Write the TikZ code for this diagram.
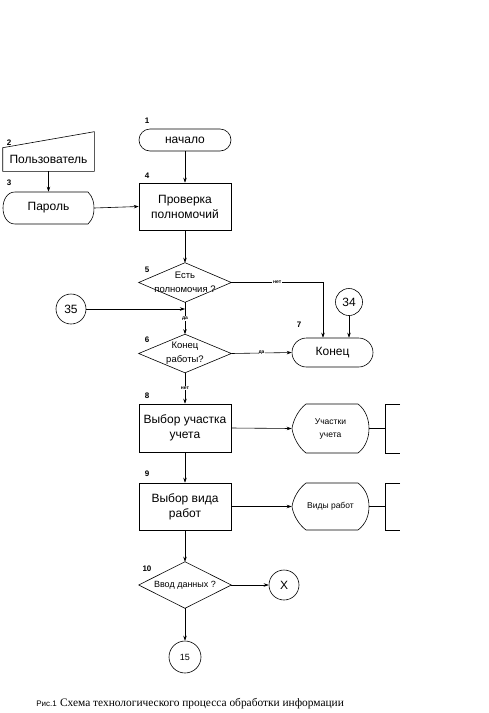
\documentclass[tikz,border=0pt]{standalone}
\usepackage{fontspec}
\setmainfont{Liberation Serif}
\setsansfont{Liberation Sans}
\usetikzlibrary{shapes.misc,arrows.meta}
\begin{document}
\begin{tikzpicture}[x=1pt,y=-1pt, line width=0.6pt,
 font=\sffamily\fontsize{12}{15}\selectfont,
 arr/.style={-{Stealth[length=5pt,width=3.5pt]}},
 lbl/.style={font=\sffamily\bfseries\fontsize{5}{5}\selectfont, fill=white, inner sep=0.6pt},
 num/.style={font=\sffamily\bfseries\fontsize{8}{8}\selectfont, inner sep=0},
 term/.style={rounded rectangle, draw, inner sep=0},
 box/.style={rectangle, draw, minimum width=92pt, align=center, inner sep=0},
 ghost/.style={rectangle, inner sep=0, align=center},
 dtext/.style={font=\sffamily\fontsize{9.5}{14}\selectfont},
 stext/.style={font=\sffamily\fontsize{8.5}{13}\selectfont},
 circ/.style={circle, draw, inner sep=0}]
\useasboundingbox (0,0) rectangle (489,713);

% numbers
\node[num] (n1) at (147,121) {1};
\node[num] (n2) at (9,143) {2};
\node[num] (n3) at (9,183) {3};
\node[num] (n4) at (147,176) {4};
\node[num] (n5) at (147,270) {5};
\node[num] (n6) at (147,340) {6};
\node[num] (n7) at (299,325) {7};
\node[num] (n8) at (147,396) {8};
\node[num] (n9) at (147,474) {9};
\node[num] (n10) at (147,569) {10};

% start
\node[term, minimum width=92pt, minimum height=22pt] (start) at (185,140) {начало};

% user (manual input)
\node[ghost, minimum width=91pt, minimum height=23pt] (user) at (48.5,159.5) {Пользователь};
\draw (user.south west) -- (user.south east) -- ([yshift=16pt]user.north east) -- (user.north west) -- cycle;

% parol
\node[ghost, minimum width=91pt, minimum height=32pt] (parol) at (48.5,208) {Пароль};
\draw (15,192) -- (88,192) .. controls (93,197) and (94,203) .. (94,208)
  .. controls (94,214) and (93,219) .. (88,224) -- (15,224)
  .. controls (7,224) and (3,216) .. (3,208) .. controls (3,200) and (7,192) .. (15,192) -- cycle;

% check box
\node[box, minimum height=47pt] (check) at (185,206.5) {Проверка\\полномочий};

% diamond 5
\node[ghost, minimum width=92pt, minimum height=39pt, dtext] (d5) at (185,282.5) {Есть\\полномочия ?};
\draw (d5.west) -- (d5.north) -- (d5.east) -- (d5.south) -- cycle;

% circle 35
\node[circ, minimum size=30pt] (c35) at (71,309) {35};

% diamond 6
\node[ghost, minimum width=92pt, minimum height=38pt, dtext] (d6) at (185,353.5) {Конец\\работы?};
\draw (d6.west) -- (d6.north) -- (d6.east) -- (d6.south) -- cycle;

% end
\node[term, minimum width=81pt, minimum height=29pt] (end) at (332.5,352.5) {Конец};

% circle 34
\node[circ, minimum size=27pt] (c34) at (349,302) {34};

% box 8
\node[box, minimum height=48pt] (b8) at (185,428) {Выбор участка\\учета};
\node[ghost, minimum width=77pt, minimum height=49pt, stext] (u8) at (330.5,428.5) {Участки\\учета};
\draw (306,404) -- (358,404) .. controls (366,410) and (369,420) .. (369,428.5)
  .. controls (369,437) and (366,447) .. (358,453) -- (306,453)
  .. controls (298,447) and (293,436) .. (292,428.5)
  .. controls (293,421) and (298,410) .. (306,404) -- cycle;
\coordinate (br8) at (385,428.5);
\draw (400,404) -- (385,404) -- (385,453) -- (400,453);

% box 9
\node[box, minimum height=47pt] (b9) at (185,506.5) {Выбор вида\\работ};
\node[ghost, minimum width=77pt, minimum height=47pt, stext] (u9) at (330.5,506.5) {Виды работ};
\draw (306,483) -- (358,483) .. controls (366,489) and (369,498) .. (369,506.5)
  .. controls (369,515) and (366,524) .. (358,530) -- (306,530)
  .. controls (298,524) and (293,514) .. (292,506.5)
  .. controls (293,499) and (298,489) .. (306,483) -- cycle;
\coordinate (br9) at (385,506.5);
\draw (400,483) -- (385,483) -- (385,530) -- (400,530);

% diamond 10
\node[ghost, minimum width=92pt, minimum height=46pt, font=\sffamily\fontsize{9}{11}\selectfont] (d10) at (185,585) {Ввод данных ?};
\draw (d10.west) -- (d10.north) -- (d10.east) -- (d10.south) -- cycle;

\node[circ, minimum size=30pt] (cx) at (284,585) {X};
\node[circ, minimum size=32pt, font=\sffamily\fontsize{9}{11}\selectfont] (c15) at (185,657) {15};

% connectors
\draw[arr] (start.south) -- (check.north);
\draw[arr] (user.south) -- (parol.north);
\draw[arr] (parol.east) -- (check.west);
\draw[arr] (check.south) -- (d5.north);
\draw[arr] (d5.east) -| node[lbl, pos=0.25] {нет} ([xshift=-9.5pt]end.north);
\draw[arr] (c34.south) -- (c34.south |- end.north);
\draw[arr] (c35.east) -- (c35.east -| d5.south);
\draw[arr] (d5.south) -- node[lbl] {да} (d6.north);
\draw[arr] (d6.east) -- node[lbl] {да} (end.west);
\draw[arr] (d6.south) -- node[lbl] {нет} (b8.north);
\draw[arr] (b8.east) -- (u8.west);
\draw (u8.east) -- (br8);
\draw[arr] (b8.south) -- (b9.north);
\draw[arr] (b9.east) -- (u9.west);
\draw (u9.east) -- (br9);
\draw[arr] (b9.south) -- (d10.north);
\draw[arr] (d10.east) -- (cx.west);
\draw[arr] (d10.south) -- (c15.north);

% caption
\node[anchor=base west, inner sep=0] (cap) at (36,706) {{\sffamily\fontsize{8}{8}\selectfont Рис.1} {\rmfamily\fontsize{11.4}{12}\selectfont Схема технологического процесса обработки информации}};
\end{tikzpicture}
\end{document}
